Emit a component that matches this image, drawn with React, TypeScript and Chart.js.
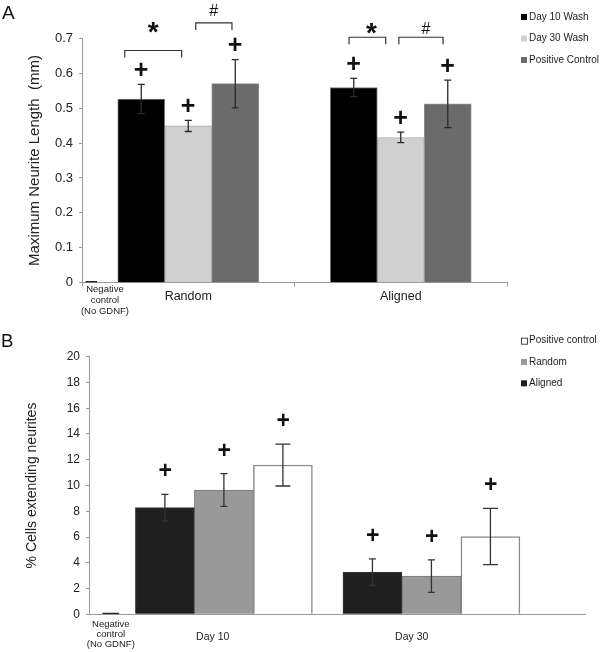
import React, { useEffect, useRef } from "react";
import { Chart, registerables } from "chart.js";

Chart.register(...registerables);

const FONT = "'Liberation Sans', Arial, Helvetica, sans-serif";
Chart.defaults.font.family = FONT;

// ---------------- Panel A data ----------------
const aCategories = ["Random", "Aligned"];
const aGroupX = [0, 1];
const aSeriesNames = ["Day 10 Wash", "Day 30 Wash", "Positive Control"];
const aDay10 = [0.526, 0.559];
const aDay30 = [0.449, 0.416];
const aPositive = [0.57, 0.512];
const aDay10Err = [0.042, 0.026];
const aDay30Err = [0.016, 0.015];
const aPositiveErr = [0.069, 0.068];
const aNegControl = [0.004];
const aNegX = [-0.456];
const aNegLabelX = [-0.392];
const aNegLabel = ["Negative", "control", "(No GDNF)"];
const aYTitle = "Maximum Neurite Length  (mm)";
// brackets: category, from series, to series, bracket level, symbol, symbol level
const aBrackets = [
  { cat: 0, from: 0, to: 1, level: 0.665, symbol: "*", symbolLevel: 0.73 },
  { cat: 0, from: 1, to: 2, level: 0.744, symbol: "#", symbolLevel: 0.781 },
  { cat: 1, from: 0, to: 1, level: 0.703, symbol: "*", symbolLevel: 0.727 },
  { cat: 1, from: 1, to: 2, level: 0.703, symbol: "#", symbolLevel: 0.73 },
];

// ---------------- Panel B data ----------------
const bCategories = ["Day 10", "Day 30"];
const bGroupX = [1, 2];
const bTickX = [0.946, 1.905];
const bSeriesNames = ["Aligned", "Random", "Positive control"];
const bAligned = [8.28, 3.27];
const bRandom = [9.65, 2.97];
const bPositive = [11.59, 6.04];
const bAlignedErr = [1.03, 1.03];
const bRandomErr = [1.27, 1.26];
const bPositiveErr = [1.63, 2.19];
const bNegControl = [0.1];
const bNegX = [0.455];
const bNegLabel = ["Negative", "control", "(No GDNF)"];
const bYTitle = "% Cells extending neurites";

// ---------------- helpers ----------------
function drawCentered(ctx: any, text: string, x: number, y: number, font: string, color: string) {
  ctx.save();
  ctx.font = font;
  ctx.fillStyle = color;
  ctx.textAlign = "left";
  ctx.textBaseline = "alphabetic";
  const m = ctx.measureText(text);
  const w = m.actualBoundingBoxLeft + m.actualBoundingBoxRight;
  ctx.fillText(text, x + m.actualBoundingBoxLeft - w / 2, y + (m.actualBoundingBoxAscent - m.actualBoundingBoxDescent) / 2);
  ctx.restore();
}

function makePlugin(cfg: any) {
  return {
    id: "annot" + cfg.name,
    afterDatasetsDraw(chart: any) {
      const ctx = chart.ctx;
      const y = chart.scales.y;
      // error bars and plus marks
      cfg.series.forEach((s: any, di: number) => {
        const meta = chart.getDatasetMeta(di);
        meta.data.forEach((el: any, i: number) => {
          const v = s.values[i];
          const e = s.errs[i];
          const x = el.x;
          const yTop = y.getPixelForValue(v + e);
          const yBot = y.getPixelForValue(v - e);
          ctx.save();
          ctx.strokeStyle = cfg.errColor;
          ctx.lineWidth = 1.3;
          ctx.beginPath();
          ctx.moveTo(x, yTop);
          ctx.lineTo(x, yBot);
          ctx.moveTo(x - s.cap, yTop);
          ctx.lineTo(x + s.cap, yTop);
          ctx.moveTo(x - s.cap, yBot);
          ctx.lineTo(x + s.cap, yBot);
          ctx.stroke();
          ctx.restore();
          drawCentered(ctx, "+", x, yTop - cfg.plusOffset, cfg.plusFont, "#111");
        });
      });
      // brackets
      (cfg.brackets || []).forEach((b: any) => {
        const e0 = chart.getDatasetMeta(b.from).data[b.cat];
        const e1 = chart.getDatasetMeta(b.to).data[b.cat];
        const w = e0.width;
        const x0 = e0.x + b.fromOff * w;
        const x1 = e1.x + b.toOff * w;
        const yb = y.getPixelForValue(b.level);
        ctx.save();
        ctx.strokeStyle = "#333";
        ctx.lineWidth = 1.2;
        ctx.beginPath();
        ctx.moveTo(x0, yb + 7);
        ctx.lineTo(x0, yb);
        ctx.lineTo(x1, yb);
        ctx.lineTo(x1, yb + 7);
        ctx.stroke();
        ctx.restore();
        const font = b.symbol === "*" ? "bold 28px " + FONT : "16px " + FONT;
        drawCentered(ctx, b.symbol, (x0 + x1) / 2 + b.symDx, y.getPixelForValue(b.symbolLevel), font, "#111");
      });
    },
    afterDraw(chart: any) {
      const ctx = chart.ctx;
      const area = chart.chartArea;
      ctx.save();
      // panel letter
      ctx.font = cfg.letterFont;
      ctx.fillStyle = "#111";
      ctx.textAlign = "left";
      ctx.textBaseline = "alphabetic";
      ctx.fillText(cfg.letter, cfg.letterX, cfg.letterY);
      // legend
      const order = cfg.legendOrder;
      const lx = chart.width - 80;
      order.forEach((di: number, k: number) => {
        const ds = chart.data.datasets[di];
        const ry = cfg.legendTop + k * cfg.legendPitch;
        ctx.fillStyle = ds.backgroundColor;
        ctx.fillRect(lx, ry - 3, 6, 6);
        if (ds.backgroundColor === "#ffffff") {
          ctx.strokeStyle = "#444";
          ctx.lineWidth = 1;
          ctx.strokeRect(lx + 0.5, ry - 2.5, 6, 6);
        }
        ctx.fillStyle = "#222";
        ctx.font = "10px " + FONT;
        ctx.textBaseline = "middle";
        ctx.fillText(ds.label, lx + 8, ry);
      });
      // negative control label
      const nx = chart.scales[cfg.negAxis].getPixelForValue(cfg.negLabelX);
      ctx.font = "9.5px " + FONT;
      ctx.fillStyle = "#222";
      ctx.textAlign = "center";
      ctx.textBaseline = "middle";
      cfg.negLabel.forEach((line: string, i: number) => {
        ctx.fillText(line, nx, area.bottom + cfg.negLabelTop + i * cfg.negLabelPitch);
      });
      ctx.restore();
    },
  };
}

const axisGray = "#9a9a9a";
const textColor = "#222";

function configA(): any {
  const plugin = makePlugin({
    name: "A",
    series: [
      { values: aDay10, errs: aDay10Err, cap: 3.5 },
      { values: aDay30, errs: aDay30Err, cap: 3.5 },
      { values: aPositive, errs: aPositiveErr, cap: 3.5 },
    ],
    errColor: "#2a2a2a",
    plusOffset: 15.5,
    plusFont: "bold 25px " + FONT,
    brackets: [
      { ...aBrackets[0], fromOff: -0.35, toOff: -0.14, symDx: 0 },
      { ...aBrackets[1], fromOff: 0.16, toOff: -0.07, symDx: 0 },
      { ...aBrackets[2], fromOff: -0.1, toOff: -0.32, symDx: 4 },
      { ...aBrackets[3], fromOff: -0.04, toOff: -0.1, symDx: 5 },
    ],
    letter: "A",
    letterFont: "19px " + FONT,
    letterX: 2,
    letterY: 19,
    legendOrder: [0, 1, 2],
    legendTop: 17,
    legendPitch: 21.5,
    negAxis: "xn",
    negLabelX: aNegLabelX[0],
    negLabel: aNegLabel,
    negLabelTop: 6.5,
    negLabelPitch: 11.3,
  });
  const pts = (vals: number[]) => vals.map((v, i) => ({ x: aGroupX[i], y: v }));
  return {
    type: "bar",
    data: {
      labels: aCategories,
      datasets: [
        { label: aSeriesNames[0], data: pts(aDay10), xAxisID: "xn", backgroundColor: "#000000", borderColor: "#7a7a7a", borderWidth: 1, barThickness: 47 },
        { label: aSeriesNames[1], data: pts(aDay30), xAxisID: "xn", backgroundColor: "#d0d0d0", borderColor: "#a8a8a8", borderWidth: 1, barThickness: 47 },
        { label: aSeriesNames[2], data: pts(aPositive), xAxisID: "xn", backgroundColor: "#6b6b6b", borderColor: "#8c8c8c", borderWidth: 1, barThickness: 47 },
        { label: "Negative control", data: aNegControl.map((v, i) => ({ x: aNegX[i], y: v })), xAxisID: "xn", grouped: false, barThickness: 11, backgroundColor: "#2a2a2a", borderWidth: 0 },
      ],
    },
    options: {
      animation: false,
      responsive: false,
      devicePixelRatio: 1,
      layout: { padding: { top: 38.3, right: 94, left: 0, bottom: 0 } },
      plugins: { legend: { display: false }, tooltip: { enabled: false } },
      scales: {
        x: {
          type: "category",
          labels: aCategories,
          grid: { drawOnChartArea: false, drawTicks: true, tickLength: 4, color: axisGray, offset: true },
          border: { color: axisGray },
          ticks: { font: { size: 12.5 }, color: textColor, padding: 2.5 },
          afterFit: (s: any) => { s.height = 39.3; },
        },
        xn: { type: "linear", display: false, min: -0.5, max: 1.5, offset: false, grid: { offset: false } },
        y: {
          min: 0,
          max: 0.7,
          ticks: { stepSize: 0.1, font: { size: 13 }, color: textColor, padding: 6, callback: (v: any) => String(Math.round(v * 10) / 10) },
          grid: { drawOnChartArea: false, drawTicks: true, tickLength: 3, color: axisGray },
          border: { color: axisGray },
          title: { display: true, text: aYTitle, font: { size: 15 }, color: textColor, padding: { top: 26, bottom: 0 } },
          afterFit: (s: any) => { s.width = 82; },
        },
      },
    },
    plugins: [plugin],
  };
}

function configB(): any {
  const plugin = makePlugin({
    name: "B",
    series: [
      { values: bAligned, errs: bAlignedErr, cap: 3.5 },
      { values: bRandom, errs: bRandomErr, cap: 3.5 },
      { values: bPositive, errs: bPositiveErr, cap: 7.5 },
    ],
    errColor: "#333333",
    plusOffset: 24.5,
    plusFont: "bold 23px " + FONT,
    brackets: [],
    letter: "B",
    letterFont: "18.5px " + FONT,
    letterX: 1,
    letterY: 25.3,
    legendOrder: [2, 1, 0],
    legendTop: 18.7,
    legendPitch: 21.3,
    negAxis: "x",
    negLabelX: bNegX[0],
    negLabel: bNegLabel,
    negLabelTop: 10,
    negLabelPitch: 10,
  });
  const pts = (vals: number[]) => vals.map((v, i) => ({ x: bGroupX[i], y: v }));
  return {
    type: "bar",
    data: {
      datasets: [
        { label: bSeriesNames[0], data: pts(bAligned), backgroundColor: "#1f1f1f", borderColor: "#3c3c3c", borderWidth: 1, barThickness: 59 },
        { label: bSeriesNames[1], data: pts(bRandom), backgroundColor: "#999999", borderColor: "#7a7a7a", borderWidth: 1, barThickness: 59 },
        { label: bSeriesNames[2], data: pts(bPositive), backgroundColor: "#ffffff", borderColor: "#8a8a8a", borderWidth: 1.5, barThickness: 59 },
        { label: "Negative control", data: bNegControl.map((v, i) => ({ x: bNegX[i], y: v })), grouped: false, barThickness: 16, backgroundColor: "#2a2a2a", borderWidth: 0 },
      ],
    },
    options: {
      animation: false,
      responsive: false,
      devicePixelRatio: 1,
      layout: { padding: { top: 34.7, right: 16, left: 0, bottom: 0 } },
      plugins: { legend: { display: false }, tooltip: { enabled: false } },
      scales: {
        x: {
          type: "linear",
          min: 0.35,
          max: 2.74,
          offset: false,
          grid: { display: false, offset: false },
          border: { color: axisGray },
          afterBuildTicks: (s: any) => { s.ticks = bTickX.map((v) => ({ value: v })); },
          ticks: { autoSkip: false, maxRotation: 0, font: { size: 10.5 }, color: textColor, padding: 8.4, callback: (_v: any, i: number) => bCategories[i] },
          afterFit: (s: any) => { s.height = 37.7; },
        },
        y: {
          min: 0,
          max: 20,
          ticks: { stepSize: 2, font: { size: 12 }, color: textColor, padding: 6 },
          grid: { drawOnChartArea: false, drawTicks: true, tickLength: 3, color: axisGray },
          border: { color: axisGray },
          title: { display: true, text: bYTitle, font: { size: 14 }, color: textColor, padding: { top: 23.3, bottom: 0 } },
          afterFit: (s: any) => { s.width = 89; },
        },
      },
    },
    plugins: [plugin],
  };
}

export default function App() {
  const refA = useRef<HTMLCanvasElement>(null);
  const refB = useRef<HTMLCanvasElement>(null);
  useEffect(() => {
    const a = new Chart(refA.current as HTMLCanvasElement, configA());
    const b = new Chart(refB.current as HTMLCanvasElement, configB());
    return () => {
      a.destroy();
      b.destroy();
    };
  }, []);
  return (
    <div style={{ position: "absolute", left: 0, top: 0, width: 601, height: 652, background: "#ffffff", overflow: "hidden" }}>
      <canvas ref={refA} width={601} height={322} style={{ position: "absolute", left: 0, top: 0, width: 601, height: 322, display: "block" }} />
      <canvas ref={refB} width={601} height={330} style={{ position: "absolute", left: 0, top: 322, width: 601, height: 330, display: "block" }} />
    </div>
  );
}
